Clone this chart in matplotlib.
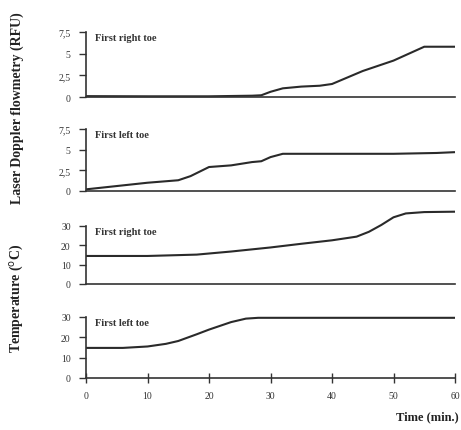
import matplotlib.pyplot as plt

plt.rcParams['font.family'] = ['Liberation Serif', 'DejaVu Serif']

# laser doppler flowmetry, first right toe (RFU)
t_ldf_r = [0, 10, 20, 27, 28.5, 30, 32, 35, 38, 40, 45, 50, 55, 60]
ldf_r = [0.1, 0.08, 0.08, 0.15, 0.2, 0.6, 1.0, 1.2, 1.3, 1.5, 3.0, 4.2, 5.8, 5.8]

# laser doppler flowmetry, first left toe (RFU)
t_ldf_l = [0, 5, 10, 15, 17, 20, 23.6, 27, 28.5, 30, 32, 40, 50, 57, 60]
ldf_l = [0.2, 0.6, 1.0, 1.3, 1.8, 2.9, 3.1, 3.5, 3.6, 4.1, 4.5, 4.5, 4.5, 4.6, 4.7]

# temperature, first right toe (deg C)
t_tmp_r = [0, 10, 18, 23.6, 30, 35, 40, 44, 46, 48, 50, 52, 55, 60]
tmp_r = [14.5, 14.5, 15.2, 16.8, 18.9, 20.8, 22.6, 24.5, 27, 30.5, 34.5, 36.5, 37.2, 37.4]

# temperature, first left toe (deg C)
t_tmp_l = [0, 6, 10, 13, 15, 18, 20, 23.6, 26, 28, 40, 50, 60]
tmp_l = [14.8, 14.8, 15.5, 16.8, 18.2, 21.5, 23.8, 27.5, 29.2, 29.6, 29.6, 29.6, 29.6]

ldf_ticks = [0, 2.5, 5, 7.5]
ldf_ticklabels = ['0', '2,5', '5', '7,5']
tmp_ticks = [0, 10, 20, 30]
tmp_ticklabels = ['0', '10', '20', '30']
x_ticks = [0, 10, 20, 30, 40, 50, 60]

W, H = 461, 431
fig = plt.figure(figsize=(W / 100, H / 100), dpi=100)

# (bottom px of zero line, top px of top tick)
boxes = [(98, 33), (192, 130), (285, 227), (379, 318)]
left_px, right_px = 86, 455

panels = [
    (t_ldf_r, ldf_r, ldf_ticks, ldf_ticklabels, 'First right toe'),
    (t_ldf_l, ldf_l, ldf_ticks, ldf_ticklabels, 'First left toe'),
    (t_tmp_r, tmp_r, tmp_ticks, tmp_ticklabels, 'First right toe'),
    (t_tmp_l, tmp_l, tmp_ticks, tmp_ticklabels, 'First left toe'),
]

axes = []
for i, ((y0, y1), (t, v, yt, ytl, name)) in enumerate(zip(boxes, panels)):
    ax = fig.add_axes([left_px / W, 1 - y0 / H, (right_px - left_px) / W, (y0 - y1) / H])
    ax.plot(t, v, color='#2a2a2a', lw=1.5, clip_on=False, solid_capstyle='butt')
    ax.set_xlim(0, 60)
    ax.set_ylim(0, yt[-1])
    ax.set_yticks(yt)
    ax.set_yticklabels(ytl)
    for s in ['top', 'right']:
        ax.spines[s].set_visible(False)
    for s in ['left', 'bottom']:
        ax.spines[s].set_color('#333333')
        ax.spines[s].set_linewidth(1.2)
    ax.tick_params(axis='y', direction='out', length=5, width=1, colors='#333333',
                   labelsize=7, pad=6)
    ax.patch.set_visible(False)
    ax.text(0.025, 0.98, name, transform=ax.transAxes, fontsize=7.5, fontweight='bold',
            color='#333333', va='top', ha='left')
    if i < 3:
        ax.set_xticks([])
    else:
        ax.set_xticks(x_ticks)
        ax.tick_params(axis='x', direction='inout', length=7, width=1, colors='#333333',
                       labelsize=7, pad=6)
    axes.append(ax)

fig.text(17 / W, 1 - 108 / H, 'Laser Doppler flowmetry (RFU)', rotation=90,
         ha='center', va='center', fontsize=10, fontweight='bold', color='#222222')
fig.text(17 / W, 1 - 298 / H, 'Temperature ($^\\mathrm{o}$C)', rotation=90,
         ha='center', va='center', fontsize=10, fontweight='bold', color='#222222')
fig.text(459 / W, 1 - 417 / H, 'Time (min.)', ha='right', va='center',
         fontsize=9, fontweight='bold', color='#222222')

fig.savefig('out.png', dpi=100)
